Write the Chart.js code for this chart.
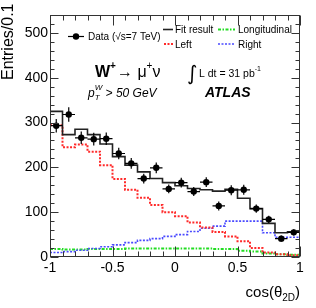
<!DOCTYPE html>
<html>
<head>
<meta charset="utf-8">
<script src="https://cdn.jsdelivr.net/npm/chart.js@4/dist/chart.umd.min.js"></script>
<style>
  html, body { margin: 0; padding: 0; background: #fff; }
  canvas { display: block; }
</style>
</head>
<body>
<canvas id="chart" width="316" height="308"></canvas>
<script>
// bins of cos(theta_2D), lower edges, width 0.1
const binLow = [-1.0, -0.9, -0.8, -0.7, -0.6, -0.5, -0.4, -0.3, -0.2, -0.1,
                0.0, 0.1, 0.2, 0.3, 0.4, 0.5, 0.6, 0.7, 0.8, 0.9];
const binWidth = 0.1;

const dataCounts = [293, 318, 266, 263, 264, 231, 209, 175, 199, 152,
                    166, 146, 167, 114, 149, 150, 108, 84, 41, 55];
const dataErrors = [15, 16, 14, 14, 14, 13, 12, 11, 12, 10,
                    11, 10, 11, 10, 11, 11, 9, 8, 7, 7];
const fitResult = [325, 273, 285, 273, 252, 224, 205, 190, 175, 166,
                   159, 153, 150, 147, 151, 131, 108, 75, 54, 56];
const leftPol = [294, 245, 251, 235, 205, 174, 150, 132, 116, 100,
                 91, 77, 66, 56, 46, 35, 20, 10, 6, 4];
const rightPol = [10, 12, 15, 19, 23, 27, 32, 37, 41, 46,
                  50, 57, 64, 69, 80, 80, 80, 54, 44, 44];
const longPol = [18, 17, 17, 18, 18, 18, 19, 19, 19, 19,
                 19, 19, 19, 18, 18, 14, 12, 8, 6, 5];

const FONT = '"Liberation Sans", Arial, Helvetica, sans-serif';

function histPoints(values) {
    const pts = values.map((v, i) => ({x: binLow[i], y: v}));
    pts.push({x: 1, y: values[values.length - 1]});
    return pts;
}

const dataPts = dataCounts.map((v, i) => ({x: binLow[i] + binWidth / 2, y: v}));
const errYPts = [];
const errXPts = [];
dataCounts.forEach((v, i) => {
    const xc = binLow[i] + binWidth / 2;
    errYPts.push({x: xc, y: v - dataErrors[i]}, {x: xc, y: v + dataErrors[i]}, {x: xc, y: null});
    errXPts.push({x: binLow[i], y: v}, {x: binLow[i] + binWidth, y: v}, {x: xc, y: null});
});

const COL_RED = '#ff2a2a';
const COL_BLUE = '#4a4aff';
const COL_GREEN = '#22dd22';

const framePlugin = {
    id: 'frame',
    afterDraw(chart) {
        const {ctx, chartArea: a, scales} = chart;
        const L = Math.round(a.left) + 0.5, R = Math.round(a.right) - 0.5;
        const T = Math.round(a.top) + 0.5, B = Math.round(a.bottom) - 0.5;
        ctx.save();
        ctx.strokeStyle = '#333';
        ctx.lineWidth = 1;
        ctx.strokeRect(L, T, R - L, B - T);

        // inward ticks on all four sides
        ctx.beginPath();
        for (let k = 0; k <= 20; k++) {
            const v = -1 + k * 0.1;
            const px = Math.round(scales.x.getPixelForValue(v)) + 0.5;
            const len = k % 5 === 0 ? 10 : 5;
            ctx.moveTo(px, B); ctx.lineTo(px, B - len);
            ctx.moveTo(px, T); ctx.lineTo(px, T + len);
        }
        for (let v = 0; v <= 540; v += 20) {
            const py = Math.round(scales.y.getPixelForValue(v)) + 0.5;
            const len = v % 100 === 0 ? 8 : 4;
            ctx.moveTo(L, py); ctx.lineTo(L + len, py);
            ctx.moveTo(R, py); ctx.lineTo(R - len, py);
        }
        ctx.stroke();

        ctx.fillStyle = '#000';
        ctx.textBaseline = 'alphabetic';

        // y axis title
        ctx.save();
        ctx.translate(13, 80);
        ctx.rotate(-Math.PI / 2);
        ctx.font = '16px ' + FONT;
        ctx.textAlign = 'left';
        ctx.fillText('Entries/0.1', 0, 0);
        ctx.restore();

        // x axis title cos(theta_2D)
        ctx.font = '15px ' + FONT;
        const w1 = ctx.measureText('cos(θ').width;
        const w3 = ctx.measureText(')').width;
        ctx.font = '10px ' + FONT;
        const w2 = ctx.measureText('2D').width;
        let xs = 300 - (w1 + w2 + w3);
        ctx.font = '15px ' + FONT;
        ctx.fillText('cos(θ', xs, 297);
        ctx.font = '10px ' + FONT;
        ctx.fillText('2D', xs + w1, 301);
        ctx.font = '15px ' + FONT;
        ctx.fillText(')', xs + w1 + w2, 297);

        // legend
        ctx.font = '10px ' + FONT;
        ctx.lineWidth = 1.2;
        ctx.strokeStyle = '#000';
        ctx.beginPath(); ctx.moveTo(68, 36.5); ctx.lineTo(84, 36.5); ctx.stroke();
        ctx.beginPath(); ctx.arc(76, 36.5, 3.2, 0, Math.PI * 2); ctx.fill();
        ctx.fillText('Data (√s=7 TeV)', 88, 40);

        ctx.lineWidth = 1.6;
        ctx.strokeStyle = '#222';
        ctx.beginPath(); ctx.moveTo(163, 29.5); ctx.lineTo(173, 29.5); ctx.stroke();
        ctx.fillText('Fit result', 175, 33);

        ctx.lineWidth = 2;
        ctx.strokeStyle = COL_RED;
        ctx.setLineDash([2, 1.5]);
        ctx.beginPath(); ctx.moveTo(164, 44); ctx.lineTo(174, 44); ctx.stroke();
        ctx.fillText('Left', 175, 47.5);

        ctx.strokeStyle = COL_BLUE;
        ctx.lineWidth = 1.6;
        ctx.beginPath(); ctx.moveTo(218, 44); ctx.lineTo(235, 44); ctx.stroke();
        ctx.fillText('Right', 238, 47.5);

        ctx.strokeStyle = COL_GREEN;
        ctx.lineWidth = 2;
        ctx.setLineDash([3, 1.5, 1.5, 1.5]);
        ctx.beginPath(); ctx.moveTo(218, 29.5); ctx.lineTo(235, 29.5); ctx.stroke();
        ctx.setLineDash([]);
        ctx.fillText('Longitudinal', 238, 33);

        // W+ -> mu+ nu
        let x = 95;
        ctx.font = 'bold 16px ' + FONT;
        ctx.fillText('W', x, 76.5); x += ctx.measureText('W').width;
        ctx.font = 'bold 10px ' + FONT;
        ctx.fillText('+', x, 69); x += ctx.measureText('+').width + 1;
        ctx.font = '16px ' + FONT;
        ctx.fillText('→ μ', x, 76.5); x += ctx.measureText('→ μ').width;
        ctx.font = '10px ' + FONT;
        ctx.fillText('+', x, 69); x += ctx.measureText('+').width;
        ctx.font = '16px ' + FONT;
        ctx.fillText('ν', x, 76.5);

        // pT^W > 50 GeV
        x = 88;
        ctx.font = 'italic 12px ' + FONT;
        ctx.fillText('p', x, 96.5); x += ctx.measureText('p').width;
        ctx.font = 'italic 8px ' + FONT;
        ctx.fillText('W', x, 90);
        ctx.fillText('T', x, 100);
        x += ctx.measureText('W').width;
        ctx.font = 'italic 12px ' + FONT;
        ctx.fillText(' > 50 GeV', x, 96.5);

        // luminosity
        ctx.font = '20px "DejaVu Sans", ' + FONT;
        ctx.fillText('∫', 187, 80);
        ctx.font = '10.5px ' + FONT;
        ctx.fillText('L dt = 31 pb', 199, 76.5);
        x = 199 + ctx.measureText('L dt = 31 pb').width;
        ctx.font = '7px ' + FONT;
        ctx.fillText('-1', x, 71);

        // ATLAS
        ctx.font = 'italic bold 14px ' + FONT;
        ctx.fillText('ATLAS', 205, 96.5);
        ctx.restore();
    }
};

const histLine = (label, values, color, width, dash) => ({
    label: label,
    data: histPoints(values),
    stepped: true,
    borderColor: color,
    borderWidth: width,
    borderDash: dash,
    pointRadius: 0,
    fill: false
});

new Chart(document.getElementById('chart'), {
    type: 'line',
    data: {
        datasets: [
            {
                label: 'Data',
                data: dataPts,
                showLine: false,
                pointRadius: 3.2,
                pointBackgroundColor: '#000',
                pointBorderWidth: 0
            },
            {
                label: 'errY',
                data: errYPts,
                borderColor: '#000',
                borderWidth: 1.2,
                pointRadius: 0,
                spanGaps: false
            },
            {
                label: 'errX',
                data: errXPts,
                borderColor: '#000',
                borderWidth: 1.2,
                pointRadius: 0,
                spanGaps: false
            },
            histLine('Fit result', fitResult, '#222', 1.6, []),
            histLine('Left', leftPol, COL_RED, 2, [2, 1.5]),
            histLine('Right', rightPol, COL_BLUE, 1.6, [2, 1.5]),
            histLine('Longitudinal', longPol, COL_GREEN, 2, [3, 1.5, 1.5, 1.5])
        ]
    },
    options: {
        responsive: false,
        animation: false,
        layout: {padding: {top: 15, right: 16, left: 0, bottom: 0}},
        scales: {
            x: {
                type: 'linear',
                min: -1,
                max: 1,
                grid: {display: false, drawTicks: false},
                border: {display: false},
                ticks: {
                    stepSize: 0.5,
                    autoSkip: false,
                    maxRotation: 0,
                    padding: 3,
                    color: '#000',
                    font: {family: FONT, size: 14},
                    callback: (v) => String(Math.round(v * 10) / 10)
                },
                afterFit: (s) => { s.height = 51; }
            },
            y: {
                min: 0,
                max: 540,
                grid: {display: false, drawTicks: false},
                border: {display: false},
                ticks: {
                    stepSize: 100,
                    includeBounds: false,
                    padding: 2,
                    color: '#000',
                    font: {family: FONT, size: 14}
                },
                afterFit: (s) => { s.width = 50; }
            }
        },
        plugins: {
            legend: {display: false},
            tooltip: {enabled: false}
        }
    },
    plugins: [framePlugin]
});
</script>
</body>
</html>
